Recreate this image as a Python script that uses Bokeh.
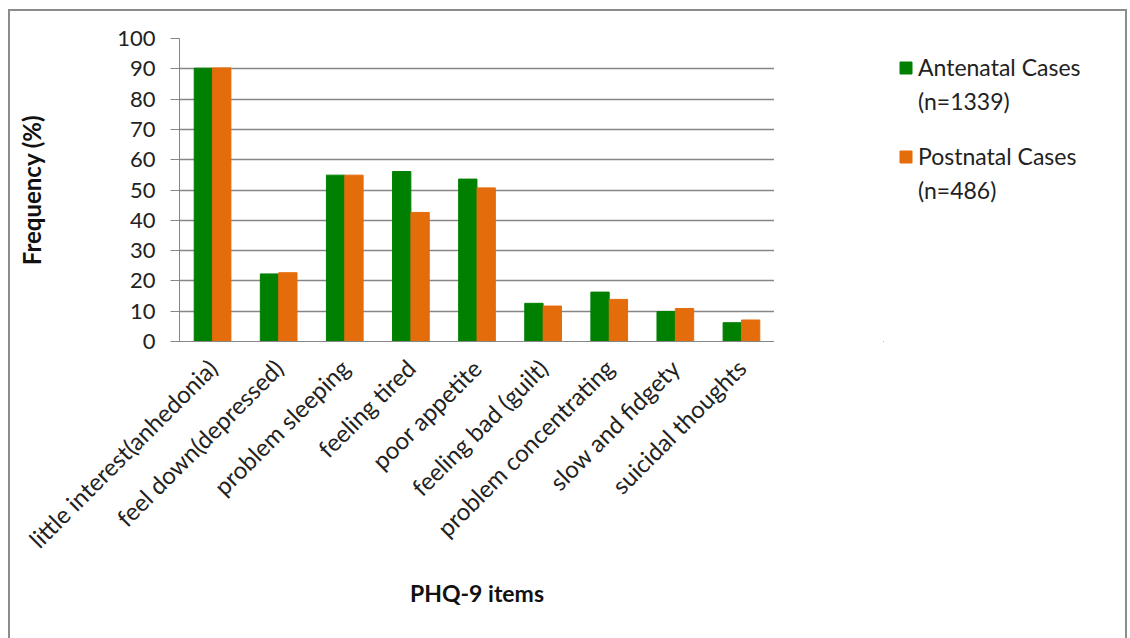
import math
from bokeh.plotting import figure
from bokeh.layouts import row
from bokeh.models import FactorRange, Legend, LegendItem, ColumnDataSource
from bokeh.transform import dodge
from bokeh.embed import file_html
from bokeh.resources import INLINE

categories = ["little interest(anhedonia)", "feel down(depressed)", "problem sleeping",
              "feeling tired", "poor appetite", "feeling bad (guilt)",
              "problem concentrating", "slow and fidgety", "suicidal thoughts"]
antenatal = [90.2, 22.3, 54.9, 56.1, 53.6, 12.6, 16.3, 9.9, 6.2]
postnatal = [90.3, 22.7, 54.9, 42.6, 50.7, 11.7, 13.9, 10.9, 7.1]
y_ticks = [0, 10, 20, 30, 40, 50, 60, 70, 80, 90, 100]
series_names = ["Antenatal Cases", "Postnatal Cases"]
series_n = ["(n=1339)", "(n=486)"]

GREEN = "#008000"
ORANGE = "#E46C0A"
GRAY = "#868686"
FONT = "Lato"

source = ColumnDataSource(dict(cat=categories, ante=antenatal, post=postnatal))

p = figure(x_range=FactorRange(*categories), y_range=(0, 100),
           width=764, height=627, output_backend="svg", toolbar_location=None,
           min_border_left=169, min_border_right=0, min_border_top=27,
           min_border_bottom=297)
p.outline_line_color = None
p.background_fill_color = "white"
p.border_fill_color = "white"

r1 = p.vbar(x=dodge("cat", -0.139, range=p.x_range), top="ante", width=0.277,
            source=source, fill_color=GREEN, line_color=GREEN)
r2 = p.vbar(x=dodge("cat", 0.139, range=p.x_range), top="post", width=0.277,
            source=source, fill_color=ORANGE, line_color=ORANGE)

p.yaxis.ticker = y_ticks
p.yaxis.minor_tick_line_color = None
p.yaxis.major_tick_in = 0
p.yaxis.major_tick_out = 9
p.yaxis.major_tick_line_color = GRAY
p.yaxis.axis_line_color = GRAY
p.yaxis.major_label_text_font = FONT
p.yaxis.major_label_text_font_size = "22px"
p.yaxis.major_label_text_color = "#222222"
p.yaxis.major_label_standoff = 15
p.yaxis.axis_label = "Frequency (%)"
p.yaxis.axis_label_text_font = FONT
p.yaxis.axis_label_text_font_style = "bold"
p.yaxis.axis_label_text_font_size = "24px"
p.yaxis.axis_label_text_color = "#111111"
p.yaxis.axis_label_standoff = 68

p.xaxis.axis_line_color = GRAY
p.xaxis.major_tick_line_color = None
p.xaxis.minor_tick_line_color = None
p.xaxis.major_label_orientation = math.pi / 4
p.xaxis.major_label_text_font = FONT
p.xaxis.major_label_text_font_size = "24px"
p.xaxis.major_label_text_color = "#222222"
p.xaxis.major_label_standoff = 16
p.xaxis.axis_label = "PHQ-9 items"
p.xaxis.axis_label_text_font = FONT
p.xaxis.axis_label_text_font_style = "bold"
p.xaxis.axis_label_text_font_size = "23px"
p.xaxis.axis_label_text_color = "#111111"
p.xaxis.axis_label_standoff = 12

p.xgrid.grid_line_color = None
p.ygrid.grid_line_color = GRAY
p.ygrid.grid_line_width = 1.3

# legend panel (separate figure so the legend can sit outside the chart frame)
pl = figure(width=351, height=627, x_range=(0, 1), y_range=(0, 1),
            output_backend="svg", toolbar_location=None,
            min_border_left=109, min_border_top=27, min_border_right=0,
            min_border_bottom=0, x_axis_location=None, y_axis_location=None)
pl.grid.grid_line_color = None
pl.outline_line_color = None
pl.border_fill_color = "white"
pl.background_fill_color = "white"
# one hidden row outside the visible range so the legend swatches get drawn
hidden = ColumnDataSource(dict(x=[-10], top=[-10]))
l1 = pl.vbar(x="x", top="top", width=0.1, source=hidden, fill_color=GREEN, line_color=GREEN)
l2 = pl.vbar(x="x", top="top", width=0.1, source=hidden, fill_color=ORANGE, line_color=ORANGE)
b1 = pl.vbar(x="x", top="top", width=0.1, source=hidden, fill_alpha=0, line_alpha=0)
b2 = pl.vbar(x="x", top="top", width=0.1, source=hidden, fill_alpha=0, line_alpha=0)
b3 = pl.vbar(x="x", top="top", width=0.1, source=hidden, fill_alpha=0, line_alpha=0)

legend = Legend(items=[
    LegendItem(label=series_names[0], renderers=[l1]),
    LegendItem(label=series_n[0], renderers=[b1]),
    LegendItem(label=" ", renderers=[b2]),
    LegendItem(label=series_names[1], renderers=[l2]),
    LegendItem(label=series_n[1], renderers=[b3]),
], location="top_left")
legend.border_line_color = None
legend.background_fill_alpha = 0
legend.label_text_font = FONT
legend.label_text_font_size = "23px"
legend.label_text_color = "#222222"
legend.glyph_width = 15
legend.glyph_height = 15
legend.spacing = 6
legend.padding = 0
legend.margin = 15
legend.label_standoff = 5
pl.add_layout(legend, "center")

layout = row(p, pl, width=1119, height=629, sizing_mode="fixed",
             styles={"border-top": "2px solid #8c8c8c", "border-left": "2px solid #8c8c8c",
                     "border-right": "2px solid #8c8c8c", "box-sizing": "border-box",
                     "background-color": "white", "overflow": "hidden"})
layout.margin = (9, 0, 0, 8)

open("out.html", "w").write(file_html(layout, INLINE))
